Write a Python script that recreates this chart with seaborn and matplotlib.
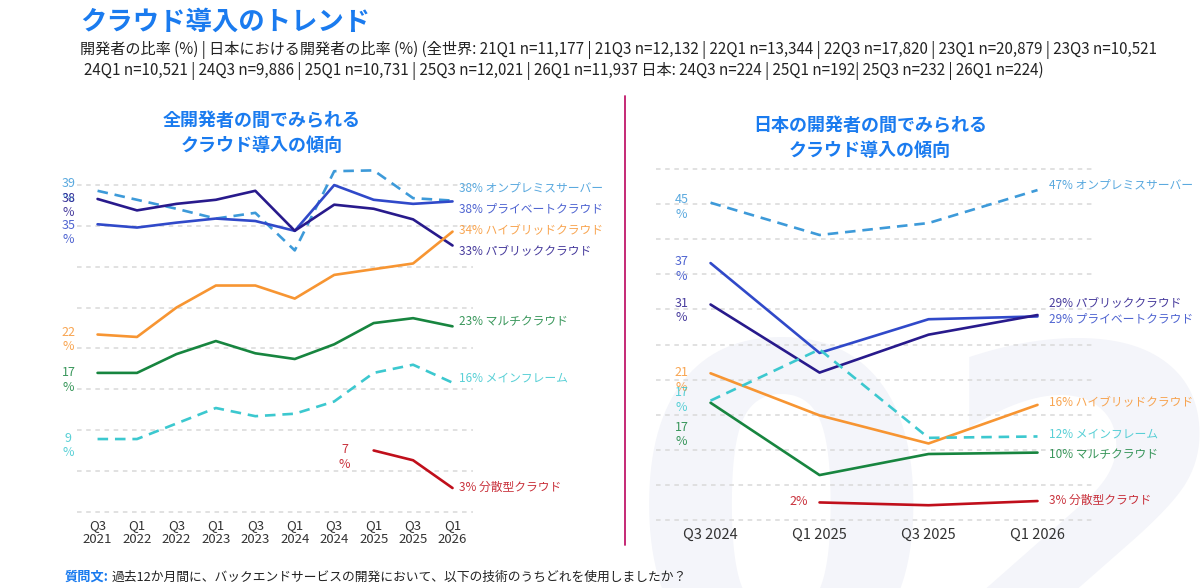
import numpy as np
import pandas as pd
import seaborn as sns
import matplotlib
matplotlib.use("Agg")
from matplotlib import pyplot as plt
from matplotlib.lines import Line2D

# ---- data ----
series_names = ['オンプレミスサーバー', 'プライベートクラウド', 'パブリッククラウド',
                'ハイブリッドクラウド', 'マルチクラウド', 'メインフレーム', '分散型クラウド']

periods_all = ['Q3\n2021', 'Q1\n2022', 'Q3\n2022', 'Q1\n2023', 'Q3\n2023',
               'Q1\n2024', 'Q3\n2024', 'Q1\n2025', 'Q3\n2025', 'Q1\n2026']
all_onprem = [39.3, 38.2, 37.1, 35.9, 36.6, 32.0, 41.7, 41.8, 38.4, 38.1]
all_private = [35.2, 34.8, 35.4, 35.9, 35.6, 34.4, 40.0, 38.2, 37.7, 38.0]
all_public = [38.3, 36.9, 37.7, 38.2, 39.3, 34.4, 37.6, 37.1, 35.8, 32.6]
all_hybrid = [21.7, 21.4, 25.0, 27.7, 27.7, 26.1, 29.0, 29.7, 30.4, 34.3]
all_multi = [17.0, 17.0, 19.3, 20.9, 19.4, 18.7, 20.5, 23.1, 23.7, 22.7]
all_mainframe = [8.9, 8.9, 10.8, 12.7, 11.7, 12.0, 13.5, 17.0, 18.0, 15.8]
all_distributed = [np.nan, np.nan, np.nan, np.nan, np.nan, np.nan, np.nan, 7.5, 6.3, 2.9]
all_start_pct = [39, 35, 38, 22, 17, 9, 7]
all_end_pct = [38, 38, 33, 34, 23, 16, 3]

periods_jp = ['Q3 2024', 'Q1 2025', 'Q3 2025', 'Q1 2026']
jp_onprem = [45.2, 40.6, 42.3, 47.0]
jp_private = [36.6, 23.8, 28.6, 29.0]
jp_public = [30.7, 21.0, 26.4, 29.2]
jp_hybrid = [20.9, 14.9, 10.9, 16.4]
jp_multi = [16.7, 6.4, 9.4, 9.6]
jp_mainframe = [17.0, 24.3, 11.7, 11.9]
jp_distributed = [np.nan, 2.5, 2.1, 2.7]
jp_start_pct = [45, 37, 31, 21, 17, 17, 2]
jp_end_pct = [47, 29, 29, 16, 10, 12, 3]

line_colors = ['#3d9ad9', '#3049c9', '#281a8c', '#f79532', '#17853f', '#3cc8cf', '#c00f1b']
palette = dict(zip(series_names, line_colors))
dashes = {n: (4, 2.6) if n in ('オンプレミスサーバー', 'メインフレーム') else '' for n in series_names}

BLUE = '#1a7bef'
TEXT = '#333333'


def long_frame(values, labels):
    rows = []
    for name, vals in zip(series_names, values):
        for i, v in enumerate(vals):
            rows.append({'series': name, 'idx': i, 'period': labels[i], 'value': v})
    return pd.DataFrame(rows).dropna()


df_all = long_frame([all_onprem, all_private, all_public, all_hybrid, all_multi,
                     all_mainframe, all_distributed], periods_all)
df_jp = long_frame([jp_onprem, jp_private, jp_public, jp_hybrid, jp_multi,
                    jp_mainframe, jp_distributed], periods_jp)

sns.set_theme(style='white')
plt.rcParams['font.family'] = ['Noto Sans CJK JP', 'DejaVu Sans']

fig = plt.figure(figsize=(12, 5.88), dpi=100)

# faint "02" watermark behind the right panel
fig.text(0.523, -0.131, '02', fontsize=317, weight='bold', color='#f4f5fa',
         family='DejaVu Sans', ha='left', va='baseline', zorder=0)

ax1 = fig.add_axes([0.0642, 0.1228, 0.33, 0.6041])
ax2 = fig.add_axes([0.5467, 0.1097, 0.3633, 0.6148])

for ax, df, labels, ylim, ymax in [(ax1, df_all, periods_all, (-0.5, 43), 40),
                                   (ax2, df_jp, periods_jp, (-0.5, 51), 50)]:
    ax.set_zorder(1)
    ax.patch.set_alpha(0)
    sns.lineplot(data=df, x='idx', y='value', hue='series', style='series',
                 palette=palette, dashes=dashes, linewidth=1.9, legend=False,
                 ax=ax, sort=False)
    ax.set_xlim(-0.52 if ax is ax1 else -0.5, len(labels) - 0.48 if ax is ax1 else len(labels) - 0.5)
    ax.set_ylim(*ylim)
    ax.set_yticks(np.arange(0, ymax + 1, 5))
    ax.set_yticklabels([])
    ax.set_xticks(range(len(labels)))
    ax.grid(axis='y', color='#d9d9d9', linestyle=(0, (3, 3)), linewidth=1.1)
    ax.grid(axis='x', visible=False)
    for s in ax.spines.values():
        s.set_visible(False)
    ax.set_xlabel('')
    ax.set_ylabel('')

ax1.set_xticklabels(periods_all, fontsize=9.5, color=TEXT, linespacing=1.15)
ax2.set_xticklabels(periods_jp, fontsize=10.5, color=TEXT)
ax1.tick_params(axis='both', length=0, pad=2)
ax2.tick_params(axis='both', length=0, pad=3)

# ---- labels at the line starts and ends ----
def start_label(ax, x, y, pct, color):
    ax.annotate(f'{pct}', xy=(x, y), xytext=(-21, 0), textcoords='offset points',
                ha='center', va='center', fontsize=9, color=color, alpha=0.85,
                annotation_clip=False)
    ax.annotate('%', xy=(x, y), xytext=(-21, -10.5), textcoords='offset points',
                ha='center', va='center', fontsize=9, color=color, alpha=0.85,
                annotation_clip=False)


def end_label(ax, x, y, text, color, dx):
    ax.annotate(text, xy=(x, y), xytext=(dx, 0), textcoords='offset points',
                ha='left', va='center', fontsize=8.5, color=color, alpha=0.85,
                annotation_clip=False)


# left panel
all_start_pos = {'オンプレミスサーバー': (0, 40.2), 'プライベートクラウド': (0, 35.1),
                 'パブリッククラウド': (0, 38.4), 'ハイブリッドクラウド': (0, 22.0),
                 'マルチクラウド': (0, 17.0), 'メインフレーム': (0, 9.0),
                 '分散型クラウド': (7, 7.6)}
all_end_y = {'オンプレミスサーバー': 39.7, 'プライベートクラウド': 37.1,
             'パブリッククラウド': 32.0, 'ハイブリッドクラウド': 34.6,
             'マルチクラウド': 23.3, 'メインフレーム': 16.4, '分散型クラウド': 3.0}
for name, sp, ep, col in zip(series_names, all_start_pct, all_end_pct, line_colors):
    x0, y0 = all_start_pos[name]
    start_label(ax1, x0, y0, sp, col)
    end_label(ax1, len(periods_all) - 1, all_end_y[name], f'{ep}% {name}', col, 4.3)

# right panel
jp_start_pos = {'オンプレミスサーバー': 45.6, 'プライベートクラウド': 36.8,
                'パブリッククラウド': 30.9, 'ハイブリッドクラウド': 21.0,
                'マルチクラウド': 13.2, 'メインフレーム': 18.1}
jp_end_y = {'オンプレミスサーバー': 47.8, 'プライベートクラウド': 28.7,
            'パブリッククラウド': 31.0, 'ハイブリッドクラウド': 16.8,
            'マルチクラウド': 9.3, 'メインフレーム': 12.2, '分散型クラウド': 2.8}
for name, sp, ep, col in zip(series_names, jp_start_pct, jp_end_pct, line_colors):
    if name == '分散型クラウド':
        ax2.annotate(f'{sp}%', xy=(1, 2.6), xytext=(-8, 0), textcoords='offset points',
                     ha='right', va='center', fontsize=9, color=col, alpha=0.85)
    else:
        start_label(ax2, 0, jp_start_pos[name], sp, col)
    end_label(ax2, len(periods_jp) - 1, jp_end_y[name], f'{ep}% {name}', col, 8)

# ---- titles and notes ----
fig.text(80 / 1200, 1 - 22 / 588, 'クラウド導入のトレンド', fontsize=19, weight='bold',
         color=BLUE, ha='left', va='center')
fig.text(80 / 1200, 1 - 50 / 588,
         '開発者の比率 (%) | 日本における開発者の比率 (%) (全世界: 21Q1 n=11,177 | 21Q3 n=12,132 | '
         '22Q1 n=13,344 | 22Q3 n=17,820 | 23Q1 n=20,879 | 23Q3 n=10,521',
         fontsize=10.9, color='#222222', ha='left', va='center')
fig.text(84 / 1200, 1 - 71 / 588,
         '24Q1 n=10,521 | 24Q3 n=9,886 | 25Q1 n=10,731 | 25Q3 n=12,021 | 26Q1 n=11,937 '
         '日本: 24Q3 n=224 | 25Q1 n=192| 25Q3 n=232 | 26Q1 n=224)',
         fontsize=10.9, color='#222222', ha='left', va='center')

fig.text(262 / 1200, 1 - 133 / 588, '全開発者の間でみられる\nクラウド導入の傾向',
         fontsize=13, weight='bold', color=BLUE, ha='center', va='center',
         linespacing=1.35)
fig.text(870 / 1200, 1 - 138 / 588, '日本の開発者の間でみられる\nクラウド導入の傾向',
         fontsize=13, weight='bold', color=BLUE, ha='center', va='center',
         linespacing=1.35)

fig.add_artist(Line2D([625 / 1200, 625 / 1200], [1 - 96 / 588, 1 - 545 / 588],
                      color='#c0186a', linewidth=1.3))

fig.text(65 / 1200, 1 - 577 / 588, '質問文:', fontsize=9.5, weight='bold', color=BLUE,
         ha='left', va='center')
fig.text(112 / 1200, 1 - 577 / 588,
         '過去12か月間に、バックエンドサービスの開発において、以下の技術のうちどれを使用しましたか？',
         fontsize=9.2, color='#222222', ha='left', va='center')

fig.savefig('out.png', dpi=100)
